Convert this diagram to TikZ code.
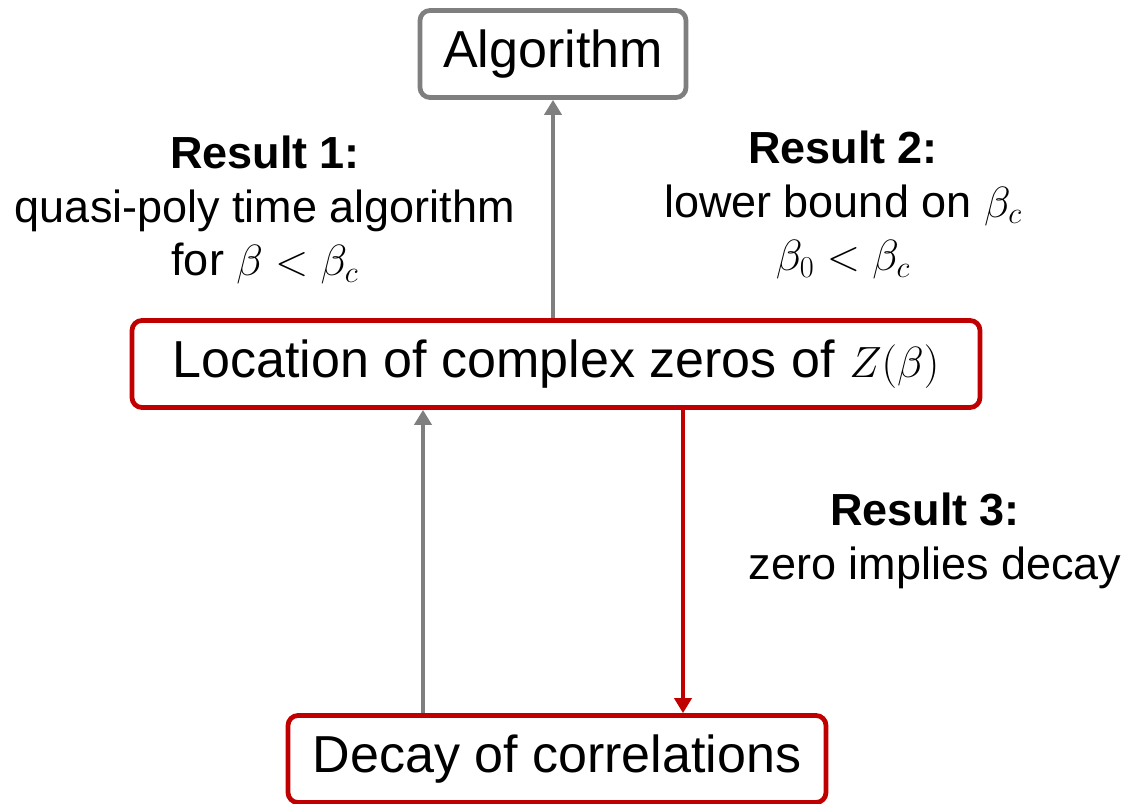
\documentclass[tikz,border=0pt]{standalone}
\usepackage{fontspec}
\setmainfont{Liberation Sans}
\usetikzlibrary{arrows.meta}
\definecolor{darkred}{HTML}{C00000}
\definecolor{midgray}{HTML}{7F7F7F}

\begin{document}
\begin{tikzpicture}[
    x=0.2mm,y=-0.2mm,
    box/.style={draw=darkred,line width=0.95mm,rounded corners=2mm,fill=white,
                minimum height=17.4mm,inner sep=0pt,
                font=\fontsize{29.6}{35}\selectfont},
    lbl/.style={align=center,font=\fontsize{25.6}{30.7}\selectfont},
    >={Triangle[length=3mm,width=3.4mm]},
    arr/.style={->,line width=0.9mm}
  ]
  \useasboundingbox (0,0) rectangle (1129,804);

  \node[box,draw=midgray,minimum width=53.2mm] (alg) at (553,54) {Algorithm};
  \node[box,minimum width=169.6mm] (loc) at (556,364)
       {Location of complex zeros of $Z(\beta)$};
  \node[box,minimum width=107.6mm] (decay) at (557,759) {Decay of correlations};

  \node[lbl] (res1) at (265,210)
       {\textbf{Result 1:}\\quasi-poly time algorithm\\for $\beta<\beta_c$};
  \node[lbl] (res2) at (843,205)
       {\textbf{Result 2:}\\lower bound on $\beta_c$\\$\beta_0<\beta_c$};
  \node[lbl] (res3) at (935,541)
       {\textbf{Result 3:}\hspace*{4mm}\\zero implies decay};

  \draw[arr,midgray] (loc.north -| alg.south) -- (alg.south);
  \draw[arr,midgray] (decay.north -| 423,0) -- (loc.south -| 423,0);
  % the implication from zeros down to decay
  \draw[arr,darkred] (loc.south -| 683,0) -- (decay.north -| 683,0);
\end{tikzpicture}
\end{document}
